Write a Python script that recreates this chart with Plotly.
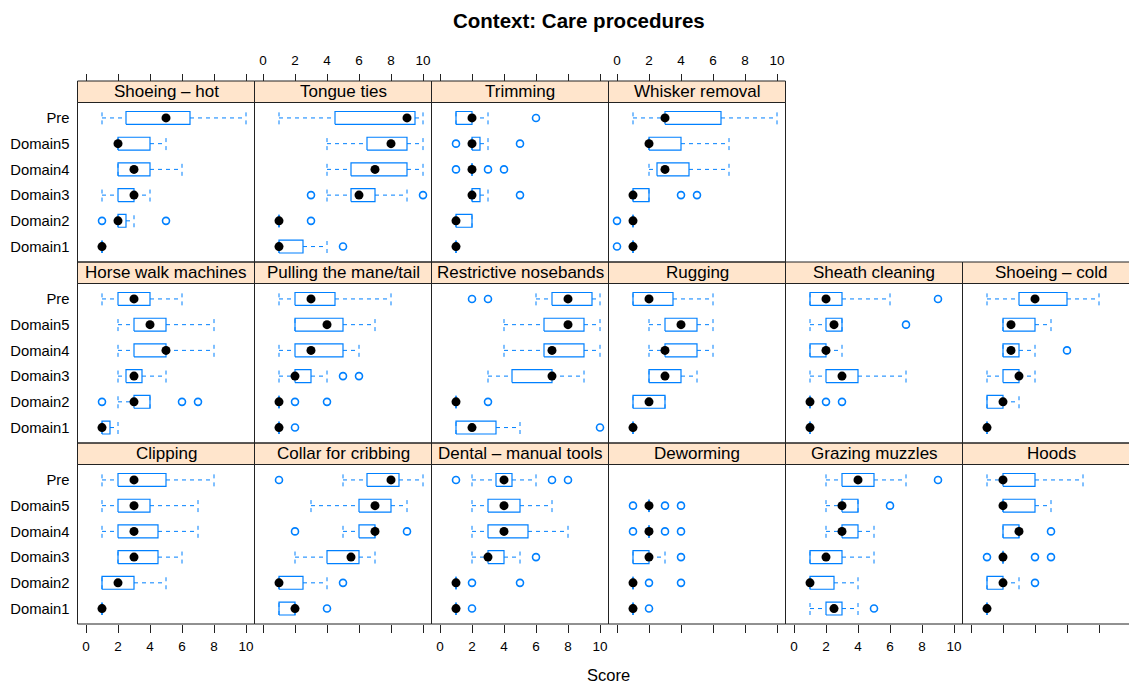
import plotly.graph_objects as go

# ---------------- data ----------------
procedures = ["Clipping", "Collar for cribbing", "Dental – manual tools", "Deworming",
              "Grazing muzzles", "Hoods", "Horse walk machines", "Pulling the mane/tail",
              "Restrictive nosebands", "Rugging", "Sheath cleaning", "Shoeing – cold",
              "Shoeing – hot", "Tongue ties", "Trimming", "Whisker removal"]
groups = ["Domain1", "Domain2", "Domain3", "Domain4", "Domain5", "Pre"]
x_ticks = [0, 2, 4, 6, 8, 10]

whisker_low = [
    [1, 1, 2, 1, 1, 1],
    [1, 1, 2, 5, 3, 5],
    [1, 1, 2, 2, 2, 2],
    [1, 1, 1, 2, 2, None],
    [1, 1, 1, 2, 2, 2],
    [1, 1, 2, 2, 2, 1],
    [1, 2, 2, 2, 2, 1],
    [1, 1, 1, 1, 2, 1],
    [1, 1, 3, 4, 4, 6],
    [1, 1, 2, 2, 2, 1],
    [1, 1, 1, 1, 1, 1],
    [1, 1, 1, 2, 2, 1],
    [1, 2, 1, 2, 2, 1],
    [1, 1, 4, 4, 4, 1],
    [1, 1, 2, 2, 2, 1],
    [1, 1, 1, 2, 2, 1],
]
box_low = [
    [1, 1, 2, 2, 2, 2],
    [1, 1, 4, 6, 6, 6.5],
    [1, 1, 3, 3, 3, 3.5],
    [1, 1, 1, 2, 2, None],
    [2, 1, 1, 3, 3, 3],
    [1, 1, 2, 2, 2, 2],
    [1, 3, 2.5, 3, 3, 2],
    [1, 1, 2, 2, 2, 2],
    [1, 1, 4.5, 6.5, 6.5, 7],
    [1, 1, 2, 3, 3, 1],
    [1, 1, 2, 1, 2, 1],
    [1, 1, 2, 2, 2, 3],
    [1, 2, 2, 2, 2, 2.5],
    [1, 1, 5.5, 5.5, 6.5, 4.5],
    [1, 1, 2, 2, 2, 1],
    [1, 1, 1, 2.5, 2, 3],
]
medians = [
    [1, 2, 3, 3, 3, 3],
    [2, 1, 5.5, 7, 7, 8],
    [1, 1, 3, 4, 4, 4],
    [1, 1, 2, 2, 2, None],
    [2.5, 1, 2, 3, 3, 4],
    [1, 2, 2, 3, 2, 2],
    [1, 3, 3, 5, 4, 3],
    [1, 1, 2, 3, 4, 3],
    [2, 1, 7, 7, 8, 8],
    [1, 2, 3, 3, 4, 2],
    [1, 1, 3, 2, 2.5, 2],
    [1, 2, 3, 2.5, 2.5, 4],
    [1, 2, 3, 3, 2, 5],
    [1, 1, 6, 7, 8, 9],
    [1, 1, 2, 2, 2, 2],
    [1, 1, 1, 3, 2, 3],
]
box_high = [
    [1, 3, 4.5, 4.5, 4, 5],
    [2, 2.5, 6, 7, 8, 8.5],
    [1, 1, 4, 5.5, 5, 4.5],
    [1, 1, 2, 2, 2, None],
    [3, 2.5, 3, 4, 4, 5],
    [1, 2, 2, 3, 4, 4],
    [1.5, 4, 3.5, 5, 5, 4],
    [1, 1, 3, 5, 5, 4.5],
    [3.5, 1, 7, 9, 9, 9.5],
    [1, 3, 4, 5, 5, 3.5],
    [1, 1, 4, 2, 3, 3],
    [1, 2, 3, 3, 4, 6],
    [1, 2.5, 3, 4, 4, 6.5],
    [2.5, 1, 7, 9, 9, 9.5],
    [1, 2, 2.5, 2, 2.5, 2],
    [1, 1, 2, 4.5, 4, 6.5],
]
whisker_high = [
    [1, 5, 6, 7, 7, 8],
    [2, 4, 7, 7, 9, 10],
    [1, 1, 5, 8, 7, 6],
    [1, 1, 3, 2, 2, None],
    [4, 4, 5, 5, 4, 7],
    [1, 3, 2, 3, 5, 7],
    [2, 4, 5, 8, 8, 6],
    [1, 1, 4, 6, 7, 8],
    [5, 1, 9, 10, 10, 10],
    [1, 3, 5, 6, 6, 6],
    [1, 1, 7, 3, 3, 6],
    [1, 3, 4, 4, 5, 8],
    [1, 3, 4, 6, 5, 10],
    [4, 1, 9, 10, 10, 10],
    [1, 2, 3, 2, 3, 3],
    [1, 1, 2, 7, 7, 10],
]
outliers = [
    [[], [], [], [], [], []],
    [[4], [5], [], [2, 9], [], [1]],
    [[2], [2, 5], [6], [], [], [1, 7, 8]],
    [[2], [2, 4], [4], [1, 3, 4], [1, 3, 4], []],
    [[5], [], [], [], [6], [9]],
    [[], [4], [1, 4, 5], [5], [], []],
    [[], [1, 6, 7], [], [], [], []],
    [[2], [2, 4], [5, 6], [], [], []],
    [[10], [3], [], [], [], [2, 3]],
    [[], [], [], [], [], []],
    [[], [2, 3], [], [], [7], [9]],
    [[], [], [], [6], [], []],
    [[], [1, 5], [], [], [], []],
    [[5], [3], [3, 10], [], [], []],
    [[], [], [5], [1, 3, 4], [1, 5], [6]],
    [[0], [0], [4, 5], [], [], []],
]

# ---------------- layout constants (pixels) ----------------
W, H = 1129, 684
FONT = "Liberation Sans, Arial, sans-serif"
BLUE = "#0080ff"
left0, col_w = 77.5, 177.0
row_tops = [443.0, 262.0, 81.0]  # strip top, by row counted from the bottom
strip_h, row_h = 21.5, 181.0
px_unit, x_pad = 16.0, 8.5
half = 0.25
ncol = 6

fig = go.Figure()
shapes, annotations = [], []

for i, proc in enumerate(procedures):
    rb, c = divmod(i, ncol)
    n = i + 1
    xa, ya = f"x{n}", f"y{n}"
    strip_top = row_tops[rb]
    p_top = strip_top + strip_h
    p_bot = strip_top + row_h
    left = left0 + c * col_w
    right = left + col_w
    right_clip = min(right, W)

    bx, by = [], []
    wx, wy = [], []
    mx, my = [], []
    ox, oy = [], []
    for g in range(len(groups)):
        yv = g + 1
        if medians[i][g] is None:
            continue
        lo, q1, md, q3, hi = (whisker_low[i][g], box_low[i][g], medians[i][g],
                              box_high[i][g], whisker_high[i][g])
        bx += [q1, q3, q3, q1, q1, None]
        by += [yv - half, yv - half, yv + half, yv + half, yv - half, None]
        wx += [lo, q1, None, q3, hi, None, lo, lo, None, hi, hi, None]
        wy += [yv, yv, None, yv, yv, None, yv - half, yv + half, None, yv - half, yv + half, None]
        mx.append(md)
        my.append(yv)
        for o in outliers[i][g]:
            ox.append(o)
            oy.append(yv)

    common = dict(xaxis=xa, yaxis=ya, showlegend=False, hoverinfo="skip")
    fig.add_trace(go.Scatter(x=wx, y=wy, mode="lines",
                             line=dict(color=BLUE, width=1, dash="4px,4px"), **common))
    fig.add_trace(go.Scatter(x=bx, y=by, mode="lines",
                             line=dict(color=BLUE, width=1.2), **common))
    fig.add_trace(go.Scatter(x=ox, y=oy, mode="markers",
                             marker=dict(symbol="circle-open", size=7, color=BLUE,
                                         line=dict(width=1.6, color=BLUE)), **common))
    fig.add_trace(go.Scatter(x=mx, y=my, mode="markers",
                             marker=dict(symbol="circle", size=9, color="black"), **common))

    xname = "xaxis" if n == 1 else f"xaxis{n}"
    yname = "yaxis" if n == 1 else f"yaxis{n}"
    xax = dict(domain=[left / W, right_clip / W],
               range=[-x_pad / px_unit, (right_clip - left - x_pad) / px_unit],
               showgrid=False, zeroline=False, showline=False, automargin=False,
               tickvals=x_ticks, tickfont=dict(family=FONT, size=13.5, color="black"),
               tickcolor="#222", tickwidth=1, fixedrange=True)
    if rb == 0:
        xax.update(anchor=ya, side="bottom", ticks="outside", ticklen=8,
                   ticklabelstandoff=2, showticklabels=(c % 2 == 0))
    elif rb == 2:
        xax.update(anchor="free", position=1 - strip_top / H, side="top",
                   ticks="outside", ticklen=7, ticklabelstandoff=4,
                   showticklabels=(c % 2 == 1))
    else:
        xax.update(anchor=ya, ticks="", showticklabels=False)
    yax = dict(domain=[1 - p_bot / H, 1 - p_top / H], range=[0.4, 6.6], anchor=xa,
               tickvals=list(range(1, len(groups) + 1)), ticktext=groups,
               showticklabels=(c == 0), ticks="", showgrid=False, zeroline=False,
               showline=False, automargin=False, ticklabelstandoff=7,
               tickfont=dict(family=FONT, size=14.8, color="black"), fixedrange=True)
    fig.layout[xname] = xax
    fig.layout[yname] = yax

    shapes.append(dict(type="rect", xref="paper", yref="paper",
                       x0=left / W, x1=right / W, y0=1 - p_top / H, y1=1 - strip_top / H,
                       fillcolor="#ffe5cc", line=dict(color="#222", width=1), layer="below"))
    shapes.append(dict(type="rect", xref="paper", yref="paper",
                       x0=left / W, x1=right / W, y0=1 - p_bot / H, y1=1 - p_top / H,
                       fillcolor="rgba(0,0,0,0)", line=dict(color="#222", width=1), layer="above"))
    annotations.append(dict(text=proc, xref="paper", yref="paper",
                            x=(left + right) / 2 / W, y=1 - (strip_top + strip_h / 2) / H,
                            xanchor="center", yanchor="middle", showarrow=False,
                            font=dict(family=FONT, size=17, color="black")))

annotations.append(dict(text="<b>Context: Care procedures</b>", xref="paper", yref="paper",
                        x=579 / W, y=1 - 20.5 / H, xanchor="center", yanchor="middle",
                        showarrow=False, font=dict(family=FONT, size=20.5, color="black")))
annotations.append(dict(text="Score", xref="paper", yref="paper",
                        x=608.5 / W, y=1 - 674.5 / H, xanchor="center", yanchor="middle",
                        showarrow=False, font=dict(family=FONT, size=16.5, color="black")))

fig.update_layout(width=W, height=H, margin=dict(l=0, r=0, t=0, b=0),
                  paper_bgcolor="white", plot_bgcolor="white",
                  shapes=shapes, annotations=annotations, showlegend=False)
fig.write_html("out.html", config={"displayModeBar": False},
               post_script="document.body.style.margin='0';document.body.style.overflow='hidden';")
